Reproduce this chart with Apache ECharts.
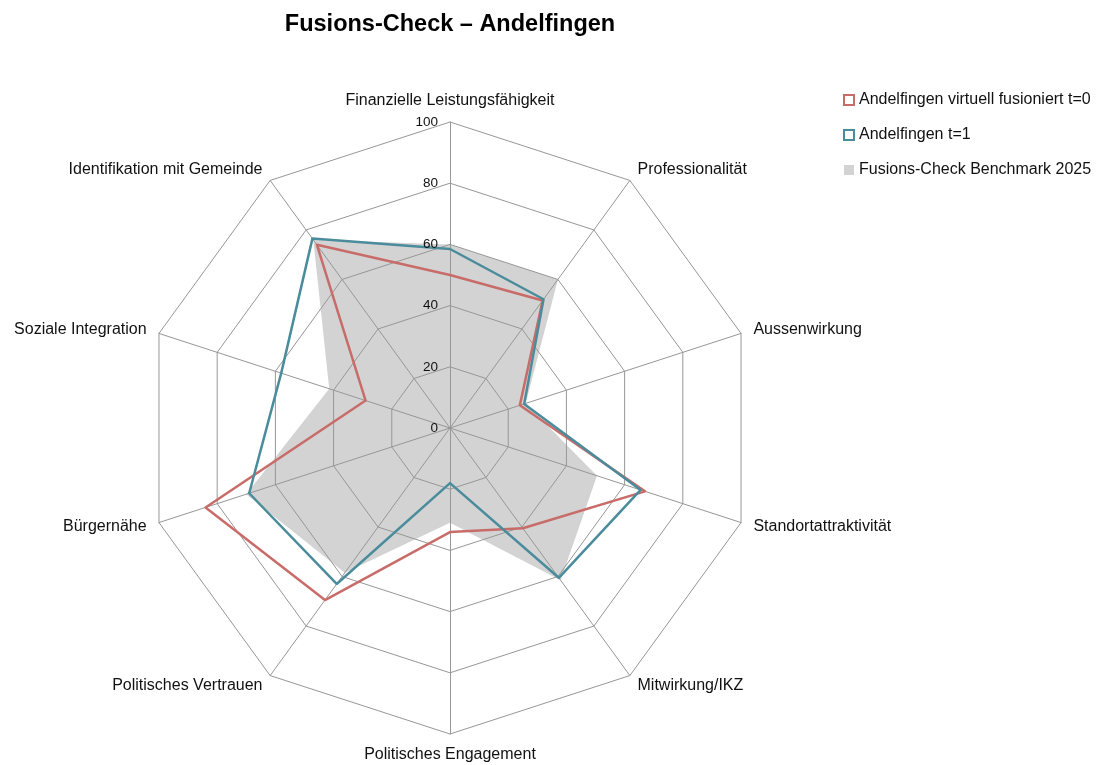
<!DOCTYPE html>
<html lang="de">
<head>
    <meta charset="UTF-8">
    <title>Fusions-Check</title>
    <script src="https://cdn.jsdelivr.net/npm/echarts@6/dist/echarts.min.js"></script>
    <style>
        body { margin: 0; background: #fff; }
        #main { width: 1103px; height: 765px; }
    </style>
</head>
<body>
<div id="main"></div>
<script>
    // Achsen im Uhrzeigersinn, oben beginnend
    let categories = ['Finanzielle Leistungsfähigkeit', 'Professionalität', 'Aussenwirkung',
        'Standortattraktivität', 'Mitwirkung/IKZ', 'Politisches Engagement',
        'Politisches Vertrauen', 'Bürgernähe', 'Soziale Integration', 'Identifikation mit Gemeinde'];
    let fusioniertT0 = [50, 51.5, 24, 67, 40.5, 34, 69.5, 84, 29, 74];
    let andelfingenT1 = [58.5, 52, 25.5, 65.5, 60.5, 18, 63, 69, 58, 76.5];
    let benchmark = [60, 60, 26, 50.5, 61.5, 31, 58.5, 70, 41.5, 76];
    let seriesNames = ['Andelfingen virtuell fusioniert t=0', 'Andelfingen t=1', 'Fusions-Check Benchmark 2025'];
    let tickMax = 100;

    // ECharts legt die Achsen gegen den Uhrzeigersinn an -> Reihenfolge umdrehen
    function ccw(arr) {
        return [arr[0]].concat(arr.slice(1).reverse());
    }

    let red = '#c86c6a';
    let teal = '#4a8c9c';
    let grey = '#d3d3d3';
    let gridColor = '#979797';

    let myChart = echarts.init(document.getElementById('main'));
    let option = {
        backgroundColor: '#fff',
        textStyle: { fontFamily: 'Liberation Sans, Arial, sans-serif' },
        title: {
            text: 'Fusions-Check – Andelfingen',
            left: 445,
            textAlign: 'center',
            top: 8,
            textStyle: { fontSize: 23.5, fontWeight: 'bold', color: '#000', fontFamily: 'Liberation Sans, Arial, sans-serif' }
        },
        legend: {
            orient: 'vertical',
            left: 838,
            top: 87,
            itemGap: 19,
            itemWidth: 10,
            itemHeight: 10,
            textStyle: { fontSize: 16, color: '#111' },
            data: [
                { name: seriesNames[0], icon: 'rect', itemStyle: { color: '#fff', borderColor: red, borderWidth: 2 } },
                { name: seriesNames[1], icon: 'rect', itemStyle: { color: '#fff', borderColor: teal, borderWidth: 2 } },
                { name: seriesNames[2], icon: 'rect', itemStyle: { color: grey, borderWidth: 0 } }
            ]
        },
        radar: {
            center: [450, 428],
            radius: 306,
            startAngle: 90,
            shape: 'polygon',
            splitNumber: 5,
            nameGap: 13,
            z: 2,
            axisName: { color: '#111', fontSize: 16 },
            indicator: ccw(categories).map(function (c) { return { name: c, min: 0, max: tickMax }; }),
            axisLine: { lineStyle: { color: gridColor, width: 1 } },
            splitLine: { lineStyle: { color: gridColor, width: 1 } },
            splitArea: { show: false },
            axisTick: { show: false },
            axisLabel: { show: false }
        },
        // nur für die Skalenbeschriftung auf der oberen Achse
        polar: { center: [450, 428], radius: 306 },
        angleAxis: { show: false, startAngle: 90, min: 0, max: 360 },
        radiusAxis: {
            min: 0, max: tickMax, interval: 20,
            z: 10,
            axisLine: { show: false },
            axisTick: { show: false },
            splitLine: { show: false },
            axisLabel: { show: true, color: '#111', fontSize: 13.5, margin: 12 }
        },
        series: [
            {
                name: seriesNames[2],
                type: 'radar',
                symbol: 'none',
                z: 1,
                lineStyle: { width: 0, color: grey },
                itemStyle: { color: grey },
                areaStyle: { color: grey, opacity: 1 },
                data: [{ value: ccw(benchmark), name: seriesNames[2] }]
            },
            {
                name: seriesNames[0],
                type: 'radar',
                symbol: 'none',
                z: 3,
                lineStyle: { width: 2.5, color: red },
                itemStyle: { color: red },
                data: [{ value: ccw(fusioniertT0), name: seriesNames[0] }]
            },
            {
                name: seriesNames[1],
                type: 'radar',
                symbol: 'none',
                z: 4,
                lineStyle: { width: 2.5, color: teal },
                itemStyle: { color: teal },
                data: [{ value: ccw(andelfingenT1), name: seriesNames[1] }]
            }
        ]
    };
    myChart.setOption(option);
</script>
</body>
</html>
